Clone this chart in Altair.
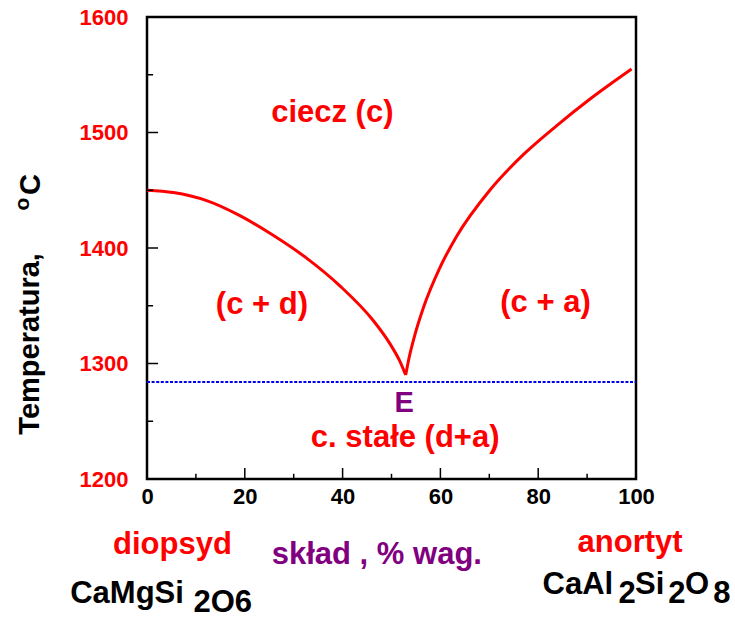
import altair as alt
import pandas as pd

FONT = "Liberation Sans"

# ---- liquidus curves (composition wt% anorthite, temperature C) ----
left_x = [0, 5.4, 12.2, 19.0, 25.8, 32.7, 39.5, 46.3, 49.7, 51.7, 52.9]
left_T = [1450, 1448, 1441, 1428, 1411, 1391, 1367, 1337, 1317, 1302, 1290]
right_x = [52.9, 53.6, 54.6, 56.5, 59.9, 63.3, 70.1, 77.0, 83.8, 90.6, 99.1]
right_T = [1290, 1305, 1322, 1348, 1383, 1410, 1450, 1481, 1506, 1529, 1555]

eutectic_T = 1284

# ---- axis ticks ----
x_ticks = [0, 20, 40, 60, 80, 100]
y_ticks = [1200, 1300, 1400, 1500, 1600]
x_major_in = [20, 40, 60, 80]
x_minor_in = [10, 30, 50, 70, 90]
y_major_in = [1300, 1400, 1500]
y_minor_in = [1250, 1350, 1450, 1550]

# ---- annotations ----
region_labels = ["ciecz (c)", "(c + d)", "(c + a)", "c. stałe (d+a)"]
region_x = [37.9, 23.5, 81.5, 52.8]
region_T = [1517, 1351, 1352, 1235.5]

e_label = ["E"]
e_x = [52.6]
e_T = [1266]

end_labels = ["diopsyd", "anortyt"]
end_x = [5.2, 98.8]
end_T = [1135, 1137]

axis_label = ["skład , % wag."]
axis_label_x = [47.0]
axis_label_T = [1126]

formula_parts = ["CaMgSi", "2O6", "CaAl", "2", "Si", "2", "O", "8"]
formula_x = [-15.7, 9.5, 80.9, 96.4, 99.8, 106.6, 110.0, 115.8]
formula_T = [1092.6, 1084.8, 1100.4, 1092.4, 1100.4, 1092.4, 1100.4, 1092.4]

ytitle_parts = ["Temperatura,", "C"]
ytitle_x = [-23.9, -23.7]
ytitle_T = [1317, 1455]
ytitle_sup = ["o"]
ytitle_sup_x = [-25.4]
ytitle_sup_T = [1438]

# ---- scales / axes ----
xs = alt.Scale(domain=[0, 100], nice=False, zero=False)
ys = alt.Scale(domain=[1200, 1600], nice=False, zero=False)
xaxis = alt.Axis(values=x_ticks, format="d", ticks=False, tickSize=0, domain=False, grid=False,
                 labelFont=FONT, labelFontSize=22, labelFontWeight="bold",
                 labelColor="black", labelPadding=7, title=None, labelFlush=False)
yaxis = alt.Axis(values=y_ticks, format="d", ticks=False, tickSize=0, domain=False, grid=False,
                 labelFont=FONT, labelFontSize=22, labelFontWeight="bold",
                 labelColor="#ff0000", labelPadding=19, title=None, labelFlush=False)


def X(f="x"):
    return alt.X(f"{f}:Q", scale=xs, axis=xaxis)


def Y(f="y"):
    return alt.Y(f"{f}:Q", scale=ys, axis=yaxis)


curve_df = pd.DataFrame({
    "x": left_x + right_x,
    "y": left_T + right_T,
    "branch": ["d"] * len(left_x) + ["a"] * len(right_x),
})
curve = alt.Chart(curve_df).mark_line(color="#ff0000", strokeWidth=3, interpolate="monotone").encode(
    x=X(), y=Y(), detail="branch:N", order=alt.Order("x:Q"))

eut_df = pd.DataFrame({"x": [0], "x2": [100], "y": [eutectic_T]})
eut = alt.Chart(eut_df).mark_rule(color="#0000ee", strokeWidth=2, strokeDash=[3, 1.6]).encode(
    x=X(), x2="x2:Q", y=Y())

# inward ticks
yt_df = pd.DataFrame({
    "y": y_major_in + y_minor_in,
    "x": [0] * (len(y_major_in) + len(y_minor_in)),
    "x2": [2.25] * len(y_major_in) + [1.25] * len(y_minor_in),
})
yt = alt.Chart(yt_df).mark_rule(color="black", strokeWidth=1.5).encode(x=X(), x2="x2:Q", y=Y())
xt_df = pd.DataFrame({
    "x": x_major_in + x_minor_in,
    "y": [1200] * (len(x_major_in) + len(x_minor_in)),
    "y2": [1209.5] * len(x_major_in) + [1204.5] * len(x_minor_in),
})
xt = alt.Chart(xt_df).mark_rule(color="black", strokeWidth=1.5).encode(x=X(), y=Y(), y2="y2:Q")


def text_layer(labels, xv, yv, color, size, align="center", baseline="middle", angle=0):
    df = pd.DataFrame({"x": xv, "y": yv, "t": labels})
    kw = dict(color=color, font=FONT, fontSize=size, fontWeight="bold",
              align=align, baseline=baseline)
    if angle:
        kw["angle"] = angle
    return alt.Chart(df).mark_text(**kw).encode(x=X(), y=Y(), text="t:N")


t_regions = text_layer(region_labels, region_x, region_T, "#ff0000", 31)
t_e = text_layer(e_label, e_x, e_T, "#800080", 29)
t_ends = text_layer(end_labels, end_x, end_T, "#ff0000", 31, baseline="alphabetic")
t_axis = text_layer(axis_label, axis_label_x, axis_label_T, "#800080", 31, baseline="alphabetic")
t_formula = text_layer(formula_parts, formula_x, formula_T, "black", 31, align="left", baseline="alphabetic")
t_ytitle = text_layer(ytitle_parts, ytitle_x, ytitle_T, "black", 29, angle=270)
t_ysup = text_layer(ytitle_sup, ytitle_sup_x, ytitle_sup_T, "black", 21, angle=270)

chart = alt.layer(
    eut, curve, yt, xt, t_regions, t_e, t_ends, t_axis, t_formula, t_ytitle, t_ysup
).properties(
    width=489, height=462,
    autosize=alt.AutoSizeParams(type="none"),
    padding={"left": 147, "top": 17, "right": 99, "bottom": 140},
    background="white",
).configure_view(stroke="black", strokeWidth=2.5)

chart.save("out.html", embed_options={"renderer": "svg", "actions": False})
